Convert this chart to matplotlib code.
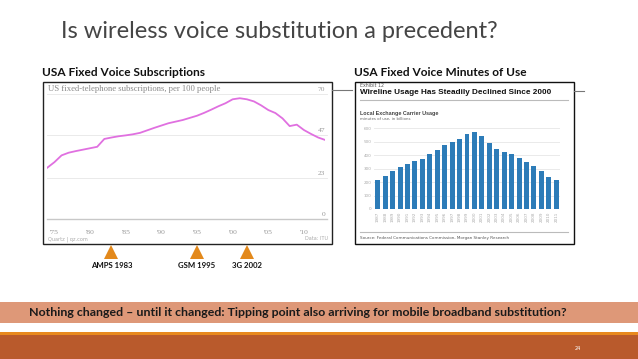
import matplotlib
matplotlib.use("Agg")
import matplotlib.pyplot as plt
import matplotlib.transforms as mtransforms
from matplotlib.patches import Rectangle

W, H = 638, 359

# left chart: US fixed-telephone subscriptions per 100 people
sub_years = list(range(1974, 2014))
sub_values = [28.9, 32.0, 35.8, 37.3, 38.2, 39.0, 39.8, 40.6, 45.0, 45.8,
              46.5, 47.0, 47.6, 48.4, 49.8, 51.2, 52.5, 53.8, 54.7, 55.6,
              56.8, 58.0, 59.6, 61.4, 63.3, 65.0, 67.2, 67.8, 67.2, 66.0,
              63.8, 61.2, 59.5, 56.5, 52.2, 53.0, 50.0, 47.8, 45.8, 44.4]
sub_yticks = [0, 23, 47, 70]
sub_xticks = [1975, 1980, 1985, 1990, 1995, 2000, 2005, 2010]

# mobile technology milestones
event_years = [1983, 1995, 2002]
event_labels = ["AMPS 1983", "GSM 1995", "3G 2002"]

# right chart: local exchange carrier usage, billions of minutes
mou_years = list(range(1987, 2012))
mou_values = [216, 246, 280, 310, 333, 355, 375, 407, 437, 474, 501, 524,
              556, 573, 543, 491, 447, 427, 407, 382, 352, 318, 280, 241, 213]
mou_yticks = [0, 100, 200, 300, 400, 500, 600]

PINK = "#e070e0"
BLUE = "#2d7cb8"
ORANGE = "#e3891c"
SALMON = "#de9878"
RUST = "#b95a2c"
GRID = "#e6e6e6"
TXT = "#999999"


def rect(x0, y0, x1, y1):
    """pixel box (top-left origin) -> figure fraction rect"""
    return [x0 / W, 1 - y1 / H, (x1 - x0) / W, (y1 - y0) / H]


fig = plt.figure(figsize=(W / 100, H / 100), dpi=100)
bg = fig.add_axes([0, 0, 1, 1], zorder=0)
bg.set_xlim(0, W)
bg.set_ylim(H, 0)
bg.axis("off")

# slide title + chart headings
bg.text(61, 31, "Is wireless voice substitution a precedent?", fontsize=17,
        family="Lato", color="#454545", va="center")
bg.text(42, 73, "USA Fixed Voice Subscriptions", fontsize=8.6, family="Lato",
        fontweight="bold", color="#111111", va="center")
bg.text(354, 73, "USA Fixed Voice Minutes of Use", fontsize=8.6, family="Lato",
        fontweight="bold", color="#111111", va="center")

# frames and connector lines
bg.add_patch(Rectangle((43, 82), 289, 162, fill=False, ec="#222222", lw=1.0))
bg.add_patch(Rectangle((355, 82), 219, 162, fill=False, ec="#111111", lw=1.0))
bg.plot([332, 352], [90, 90], color="#777777", lw=0.8)
bg.plot([574, 584], [91, 91], color="#777777", lw=0.8)

# ---- left chart ----
ax1 = fig.add_axes(rect(47.3, 94.3, 325.3, 219.3), zorder=2)
ax1.set_xlim(1974, 2013)
ax1.set_ylim(0, 70)
ax1.axis("off")
for v in sub_yticks:
    ax1.axhline(v, xmin=0, xmax=1.005, color="#c8c8c8" if v == 0 else GRID,
                lw=1.0 if v == 0 else 0.6, clip_on=False)
    ax1.text(1.0, v + 1.2, str(v), transform=ax1.get_yaxis_transform(),
             ha="right", va="bottom", fontsize=5.4, family="Liberation Serif",
             color=TXT)
ax1.plot(sub_years, sub_values, color=PINK, lw=1.3, solid_joinstyle="round")

xpix = mtransforms.blended_transform_factory(ax1.transData, bg.transData)
for yr in sub_xticks:
    ax1.text(yr, 232, "'" + str(yr)[2:], transform=xpix, ha="center",
             va="center", fontsize=5.4, family="Liberation Serif", color=TXT)
bg.text(48, 89, "US fixed-telephone subscriptions, per 100 people",
        fontsize=6.2, family="Liberation Serif", color="#8a8a8a", va="center")
bg.text(48, 239, "Quartz | qz.com", fontsize=3.6, color="#aaaaaa", va="center")
bg.text(328, 239, "Data: ITU", fontsize=3.6, color="#aaaaaa", va="center",
        ha="right")

# milestone markers under the left chart
ax1.plot(event_years, [251.5] * len(event_years), "^", ms=10, color=ORANGE,
         transform=xpix, clip_on=False, markeredgewidth=0)
for yr, lab in zip(event_years, event_labels):
    ax1.text(yr, 266, lab, transform=xpix, ha="center", va="center",
             fontsize=5.6, family="Lato", fontweight="bold", color="#111111")

# ---- right chart (exhibit) ----
bg.text(360, 85.5, "Exhibit 12", fontsize=3.4, color="#555555", va="center")
bg.text(360, 93, "Wireline Usage Has Steadily Declined Since 2000",
        fontsize=5.9, family="Liberation Sans", fontweight="bold",
        color="#111111", va="center")
bg.plot([360, 568], [99.5, 99.5], color="#bbbbbb", lw=0.8)
bg.text(360, 114, "Local Exchange Carrier Usage", fontsize=3.9,
        family="Liberation Sans", fontweight="bold", color="#444444",
        va="center")
bg.text(360, 119.5, "minutes of use, in billions", fontsize=2.8,
        color="#666666", va="center")
bg.plot([360, 568], [232, 232], color="#bbbbbb", lw=0.8)
bg.text(360, 238, "Source: Federal Communications Commission, Morgan Stanley Research",
        fontsize=3.0, color="#555555", va="center")

ax2 = fig.add_axes(rect(374, 128.3, 560, 209), zorder=2)
ax2.set_xlim(-0.5, 24.5)
ax2.set_ylim(0, 600)
ax2.yaxis.grid(True, color=GRID, lw=0.6)
ax2.set_axisbelow(True)
ax2.bar(range(len(mou_years)), mou_values, width=0.67, color=BLUE)
for s in ax2.spines.values():
    s.set_visible(False)
ax2.set_yticks(mou_yticks)
ax2.set_yticklabels([str(v) for v in mou_yticks])
ax2.set_xticks(range(len(mou_years)))
ax2.set_xticklabels([str(y) for y in mou_years], rotation=90)
ax2.tick_params(length=0, labelsize=3.0, labelcolor="#aaaaaa", pad=2)

# ---- bottom banner ----
bg.add_patch(Rectangle((0, 302), W, 21, color=SALMON, lw=0))
bg.text(298, 312.5, "Nothing changed \u2013 until it changed: Tipping point also "
        "arriving for mobile broadband substitution?", fontsize=8.9,
        family="Lato", fontweight="bold", color="#1a1a1a", ha="center",
        va="center")
bg.add_patch(Rectangle((0, 332), W, 2.5, color="#e8891e", lw=0))
bg.add_patch(Rectangle((0, 334.5), W, 25, color=RUST, lw=0))
bg.text(578, 348, "24", fontsize=3.6, color="white", ha="center", va="center")

fig.savefig("out.png", dpi=100, facecolor="white")
